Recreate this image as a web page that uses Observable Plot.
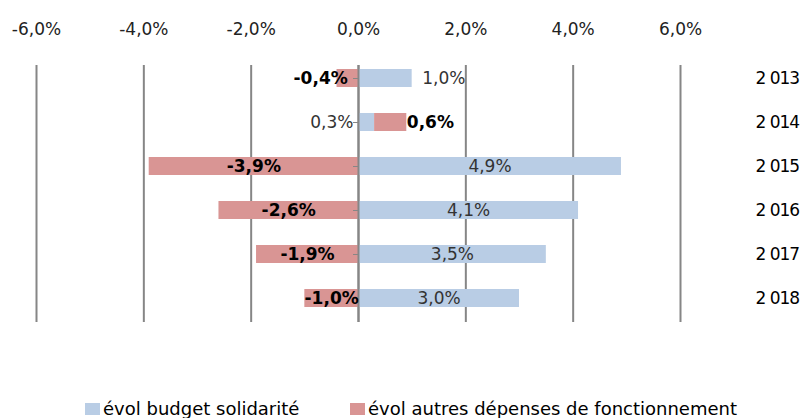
<!DOCTYPE html>
<html><head><meta charset="utf-8">
<script src="https://cdn.jsdelivr.net/npm/d3@7"></script>
<script src="https://cdn.jsdelivr.net/npm/@observablehq/plot@0.6"></script>
<style>
body{margin:0;background:#fff;font-family:"DejaVu Sans",sans-serif;}
#chart{position:relative;width:805px;height:418px;overflow:hidden;}
#chart g[aria-label="y-axis tick label"] text{letter-spacing:-1px;}
.legend{position:absolute;top:398px;left:0;width:805px;height:20px;font-size:18px;color:#000;white-space:nowrap;}
.item{position:absolute;top:0;display:flex;align-items:center;}
.sw{display:inline-block;width:15px;height:12px;margin-right:3px;}
</style></head>
<body><div id="chart"></div>
<script>
const years = [2013, 2014, 2015, 2016, 2017, 2018];
const yearLabels = ["2 013", "2 014", "2 015", "2 016", "2 017", "2 018"];
const solidarite = [1.0, 0.3, 4.9, 4.1, 3.5, 3.0];
const autres = [-0.4, 0.6, -3.9, -2.6, -1.9, -1.0];
const seriesNames = ["évol budget solidarité", "évol autres dépenses de fonctionnement"];
const colors = ["#B9CDE5", "#D99594"];
const xTicks = [-6, -4, -2, 0, 2, 4, 6];

const fmt = v => v.toFixed(1).replace(".", ",") + "%";

// build rows with stacked extents (positives and negatives stacked separately)
const rows = [];
years.forEach((yr, i) => {
  let pos = 0, neg = 0;
  [solidarite[i], autres[i]].forEach((v, s) => {
    let x1, x2;
    if (v >= 0) { x1 = pos; x2 = pos + v; pos = x2; } else { x1 = neg; x2 = neg + v; neg = x2; }
    rows.push({year: yr, s, series: seriesNames[s], value: v, x1, x2});
  });
});

// label placement
rows.forEach(r => {
  const other = rows.find(o => o.year === r.year && o.s !== r.s);
  if (r.s === 0) {
    if (Math.abs(r.value) >= 1.5) { r.lx = (r.x1 + r.x2) / 2; r.anchor = "middle"; r.dx = 0; }
    else if (other.value > 0) { r.lx = r.x1; r.anchor = "end"; r.dx = -5; }
    else { r.lx = r.x2; r.anchor = "start"; r.dx = 10; }
  } else {
    if (Math.abs(r.value) >= 1) { r.lx = (r.x1 + r.x2) / 2; r.anchor = "middle"; r.dx = 0; }
    else if (r.value < 0) { r.lx = (r.x1 + r.x2) / 2; r.anchor = "end"; r.dx = 0; }
    else { r.lx = r.x2; r.anchor = "start"; r.dx = 0; }
  }
});

const labelMarks = d3.groups(rows, r => r.s + "|" + r.anchor + "|" + r.dx).map(([k, g]) =>
  Plot.text(g, {
    x: "lx", y: "year", text: d => fmt(d.value),
    textAnchor: g[0].anchor, dx: g[0].dx,
    fontSize: 17,
    fontWeight: g[0].s === 1 ? "bold" : "normal",
    fill: g[0].s === 1 ? "#000" : "#333"
  })
);

const plot = Plot.plot({
  width: 805,
  height: 340,
  marginTop: 65,
  marginBottom: 18,
  marginLeft: 36,
  marginRight: 125,
  style: {fontFamily: "DejaVu Sans", fontSize: "17px", background: "#fff"},
  x: {domain: [-6, 6]},
  y: {type: "band", domain: years, paddingInner: 0.59, paddingOuter: 0.1, insetBottom: 10},
  color: {domain: seriesNames, range: colors},
  marks: [
    Plot.ruleX(xTicks, {stroke: "#868686", strokeWidth: 2}),
    Plot.barX(rows, {y: "year", x1: "x1", x2: "x2", fill: "series"}),
    Plot.ruleX([0], {stroke: "#868686", strokeWidth: 2}),
    Plot.ruleY(years, {y: d => d, x1: 0, x2: 0, insetLeft: -5, stroke: "#868686", strokeWidth: 1}),
    ...labelMarks,
    Plot.axisX(xTicks, {anchor: "top", tickSize: 0, tickPadding: 31, tickFormat: fmt, fontSize: 17, fill: "#222", label: null}),
    Plot.axisY({anchor: "right", tickSize: 0, tickPadding: 75, tickFormat: d => yearLabels[years.indexOf(d)], fontSize: 17, fill: "#000", label: null})
  ]
});
const chart = document.getElementById("chart");
chart.appendChild(plot);

const legend = document.createElement("div");
legend.className = "legend";
const lefts = [85, 350];
seriesNames.forEach((n, i) => {
  const it = document.createElement("div");
  it.className = "item";
  it.style.left = lefts[i] + "px";
  const sw = document.createElement("span");
  sw.className = "sw"; sw.style.background = colors[i];
  const t = document.createElement("span");
  t.textContent = n;
  it.appendChild(sw); it.appendChild(t);
  legend.appendChild(it);
});
chart.appendChild(legend);
</script>
</body></html>
